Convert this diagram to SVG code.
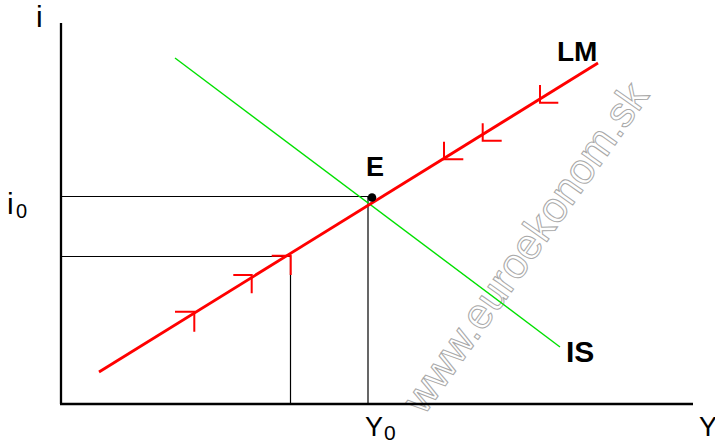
<svg xmlns="http://www.w3.org/2000/svg" width="715" height="441" viewBox="0 0 715 441">
<style>
.t{font-family:"Liberation Sans",Arial,sans-serif;fill:#000}
.b{font-weight:bold}
.ax{stroke:#000;stroke-width:2.3;fill:none}
.g{stroke:#000;stroke-width:1.2;fill:none}
.lm{stroke:#ff0000;stroke-width:2.8;fill:none}
.mk{stroke:#ff0000;stroke-width:2;fill:none}
.is{stroke:#00e000;stroke-width:1.4;fill:none}
.wm{font-family:"Liberation Sans",Arial,sans-serif;font-size:42.5px;fill:none;stroke:#a8a8a8;stroke-width:1}
</style>
<rect width="715" height="441" fill="#fff"/>
<g id="watermark">
<text class="wm" transform="translate(424,416) rotate(-54.8)">www.euroekonom.sk</text>
</g>
<g id="axes">
<line class="ax" x1="61" y1="23" x2="61" y2="404"/>
<line class="ax" x1="60" y1="404" x2="693" y2="404"/>
<text class="t" x="36" y="27" font-size="30">i</text>
<text class="t" x="7" y="214" font-size="30">i</text>
<text class="t" x="16" y="218" font-size="20">0</text>
<text class="t" x="365" y="436" font-size="27">Y</text>
<text class="t" x="384" y="439.5" font-size="21">0</text>
<text class="t" x="699" y="436" font-size="27">Y</text>
</g>
<g id="guides">
<line class="g" x1="61" y1="196.5" x2="372" y2="196.5"/>
<line class="g" x1="368" y1="196" x2="368" y2="404"/>
<line class="g" x1="61" y1="256.5" x2="290" y2="256.5"/>
<line class="g" x1="290.5" y1="256" x2="290.5" y2="404"/>
</g>
<g id="IS">
<line class="is" x1="175" y1="58" x2="560" y2="347"/>
<text class="t b" x="566" y="362" font-size="30">IS</text>
</g>
<g id="LM">
<line class="lm" x1="99" y1="372" x2="598" y2="63"/>
<path class="mk" d="M175,311.7H194.3V331.7M233.3,275H251.7V293.3M271.7,255.7H290.7V275"/>
<path class="mk" d="M444,141.7V159.3H463.3M482.7,123.3V140.7H501.7M540,85V102.7H558.3"/>
<text class="t b" x="557" y="61" font-size="28">LM</text>
</g>
<g id="E">
<circle cx="372" cy="197.5" r="4.3" fill="#000"/>
<text class="t b" x="366" y="176" font-size="27">E</text>
</g>
</svg>
